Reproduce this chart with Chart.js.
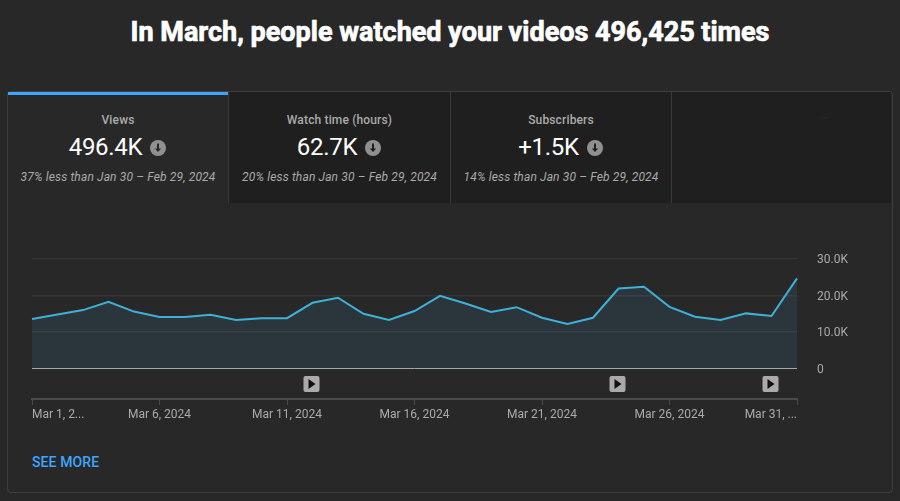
<!DOCTYPE html>
<html>
<head>
<meta charset="utf-8">
<script src="https://cdn.jsdelivr.net/npm/chart.js@4"></script>
<style>
  html, body { margin: 0; padding: 0; }
  body { width: 900px; height: 501px; background: #282828; font-family: Roboto, sans-serif; overflow: hidden; position: relative; }
  h1 { position: absolute; left: 0; top: 13px; width: 900px; margin: 0; text-align: center; color: #fff; font-size: 27px; line-height: 38px; font-weight: 700; -webkit-text-stroke: 0.7px #fff; }
  #panel { position: absolute; left: 7px; top: 91px; width: 884px; height: 400px; border: 1px solid #3e3e3e; border-radius: 4px; }
  .tab { position: absolute; top: 92px; height: 111px; background: #1f1f1f; text-align: center; box-sizing: border-box; border-left: 1px solid #3a3a3a; }
  .tab.on { background: #282828; border-top: 3px solid #3ea6ff; border-left: 0; }
  .tab .name { position: absolute; left: 0; right: 0; top: 21px; color: #aaa; font-size: 12px; line-height: 14px; font-weight: 500; letter-spacing: 0.15px; }
  .tab.on .name { top: 18px; }
  .tab .big { position: absolute; left: -1px; right: 0; top: 40px; color: #fff; font-size: 24px; line-height: 30px; letter-spacing: -0.3px; }
  .tab.on .big { top: 37px; }
  .tab .big svg { vertical-align: -1px; margin-left: 8px; }
  .tab .note { position: absolute; left: 0; right: 0; top: 78px; color: #aaa; font-size: 12px; line-height: 14px; font-style: italic; letter-spacing: 0.15px; }
  .tab.on .note { top: 75px; }
  #dots { position: absolute; left: 821px; top: 110px; color: #3c3c3c; font-size: 9px; line-height: 10px; }
  #more { position: absolute; left: 32px; top: 454px; color: #3ea6ff; font-size: 14px; line-height: 16px; font-weight: 500; letter-spacing: 0.1px; }
  #chartBox { position: absolute; left: 0; top: 240px; width: 860px; height: 190px; }
</style>
</head>
<body>
<h1>In March, people watched your videos 496,425 times</h1>
<div id="panel"></div>
<div class="tab on" style="left:8px;width:220px">
  <div class="name">Views</div>
  <div class="big">496.4K<svg width="16" height="16" viewBox="0 0 16 16"><circle cx="8" cy="8" r="8" fill="#909090"/><path d="M7 3.5h2v5h2.2L8 12 4.800 8.500H7z" fill="#282828"/></svg></div>
  <div class="note">37% less than Jan 30 – Feb 29, 2024</div>
</div>
<div class="tab" style="left:228px;width:222px">
  <div class="name">Watch time (hours)</div>
  <div class="big">62.7K<svg width="16" height="16" viewBox="0 0 16 16"><circle cx="8" cy="8" r="8" fill="#909090"/><path d="M7 3.5h2v5h2.2L8 12 4.800 8.500H7z" fill="#1f1f1f"/></svg></div>
  <div class="note">20% less than Jan 30 – Feb 29, 2024</div>
</div>
<div class="tab" style="left:450px;width:221px">
  <div class="name">Subscribers</div>
  <div class="big">+1.5K<svg width="16" height="16" viewBox="0 0 16 16"><circle cx="8" cy="8" r="8" fill="#909090"/><path d="M7 3.5h2v5h2.2L8 12 4.800 8.500H7z" fill="#1f1f1f"/></svg></div>
  <div class="note">14% less than Jan 30 – Feb 29, 2024</div>
</div>
<div class="tab" style="left:671px;width:220px"></div>
<div id="dots">...</div>
<div id="chartBox"><canvas id="viewsChart"></canvas></div>
<div id="more">SEE MORE</div>

<script>
var days = ['Mar 1','Mar 2','Mar 3','Mar 4','Mar 5','Mar 6','Mar 7','Mar 8','Mar 9','Mar 10','Mar 11','Mar 12','Mar 13','Mar 14','Mar 15','Mar 16',
  'Mar 17','Mar 18','Mar 19','Mar 20','Mar 21','Mar 22','Mar 23','Mar 24','Mar 25','Mar 26','Mar 27','Mar 28','Mar 29','Mar 30','Mar 31'];
var views = [13560,14800,16000,18300,15600,14100,14100,14700,13300,13800,13800,18000,19400,15000,13300,15750,
  19900,17800,15500,16800,13900,12200,13900,21900,22400,16900,14200,13300,15100,14400,24700];
var xTickLabels = ['Mar 1, 2...','Mar 6, 2024','Mar 11, 2024','Mar 16, 2024','Mar 21, 2024','Mar 26, 2024','Mar 31, ...'];
var yTicks = [0,10000,20000,30000];
var videoDays = ['Mar 12','Mar 24','Mar 30'];

// play buttons under the line + first/last x labels pulled inside the axis
var extras = {
  id: 'extras',
  beforeDraw: function(chart){
    var items = chart.scales.x.getLabelItems();
    items[0].options.textAlign = 'left';
    items[items.length - 1].options.textAlign = 'right';
  },
  afterDraw: function(chart){
    var ctx = chart.ctx;
    videoDays.forEach(function(d){
      var x = Math.floor(chart.scales.x.getPixelForValue(days.indexOf(d))) - 0.5;
      var y = 144;
      ctx.save();
      ctx.fillStyle = '#aaaaaa';
      ctx.beginPath();
      ctx.roundRect(x - 8, y - 8, 16, 16, 2);
      ctx.fill();
      ctx.fillStyle = '#111111';
      ctx.beginPath();
      ctx.moveTo(x - 3, y - 5);
      ctx.lineTo(x + 4, y);
      ctx.lineTo(x - 3, y + 5);
      ctx.closePath();
      ctx.fill();
      ctx.restore();
    });
  }
};

new Chart('viewsChart', {
  type: 'line',
  plugins: [extras],
  data: {
    labels: days,
    datasets: [{
      data: views,
      borderColor: '#3fb1d8',
      borderWidth: 2,
      backgroundColor: 'rgba(63,177,216,0.11)',
      fill: 'origin',
      tension: 0,
      pointRadius: 0
    }]
  },
  options: {
    responsive: true,
    maintainAspectRatio: false,
    animation: false,
    events: [],
    layout: { padding: { left: 32, top: 19, right: 0, bottom: 0 } },
    plugins: { legend: { display: false }, tooltip: { enabled: false } },
    scales: {
      x: {
        afterFit: function(s){ s.height = 31; },
        afterBuildTicks: function(s){
          s.ticks = s.ticks.filter(function(t){ return t.value % 5 === 0; });
        },
        border: { color: '#4a4a4a', width: 2 },
        grid: { drawOnChartArea: false, drawTicks: true, tickLength: 6, tickColor: '#4a4a4a', tickWidth: 1 },
        ticks: {
          autoSkip: false, maxRotation: 0, padding: 3,
          color: '#aaaaaa', font: { family: 'Roboto', size: 12 },
          callback: function(v, i){ return xTickLabels[i]; }
        }
      },
      y: {
        position: 'right',
        min: -8356,
        max: 30000,
        afterFit: function(s){ s.width = 63; },
        afterBuildTicks: function(s){
          s.ticks = yTicks.map(function(v){ return { value: v }; });
        },
        border: { display: false },
        grid: {
          // tick marks stay invisible, they only push the labels away from the plot
          drawTicks: true, tickLength: 20, tickColor: 'transparent',
          lineWidth: function(c){ return c.tick && c.tick.value === 0 ? 1 : 1.5; },
          color: function(c){ return c.tick && c.tick.value === 0 ? '#a5abae' : '#353535'; }
        },
        ticks: {
          padding: 0, labelOffset: 1, color: '#aaaaaa', font: { family: 'Roboto', size: 12 },
          callback: function(v){ return v === 0 ? '0' : (v / 1000).toFixed(1) + 'K'; }
        }
      }
    }
  }
});
</script>
</body>
</html>
